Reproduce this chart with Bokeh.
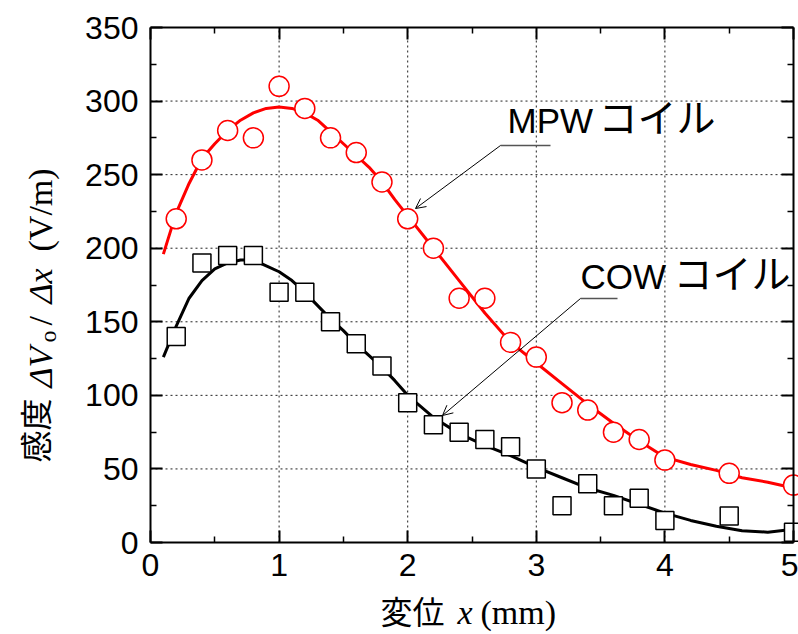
import math
from bokeh.plotting import figure
from bokeh.models import (Range1d, LinearAxis, Label, Arrow, OpenHead, FixedTicker,
                          CustomLabelingPolicy)
from bokeh.embed import file_html
from bokeh.resources import INLINE

# ---------------- data ----------------
x_pts = [0.2, 0.4, 0.6, 0.8, 1.0, 1.2, 1.4, 1.6, 1.8, 2.0, 2.2, 2.4, 2.6, 2.8,
         3.0, 3.2, 3.4, 3.6, 3.8, 4.0, 4.5, 5.0]
mpw_vals = [220, 260, 280, 275, 310, 295, 275, 265, 245, 220, 200, 166, 166, 136,
            126, 95, 90, 75, 70, 56, 47, 39]
cow_vals = [140, 190, 195, 195, 170, 170, 150, 135, 120, 95, 80, 75, 70, 65,
            50, 25, 40, 25, 30, 15, 18, 7]

fit_x = [0.1, 0.2, 0.3, 0.4, 0.5, 0.6, 0.7, 0.8, 0.9, 1.0, 1.1, 1.2, 1.3, 1.4,
         1.5, 1.6, 1.7, 1.8, 1.9, 2.0, 2.2, 2.4, 2.6, 2.8, 3.0, 3.2, 3.4, 3.6,
         3.8, 4.0, 4.2, 4.4, 4.6, 4.8, 5.0]
mpw_fit = [196, 224, 244, 261, 271, 280, 287, 292, 295, 296, 295, 292, 287, 279,
           271, 263, 255, 245, 233, 222, 200, 178, 156, 136, 122, 108, 94, 81,
           69, 58, 53, 49, 44, 41, 37]
cow_fit = [126, 147, 166, 178, 186, 190, 192, 192, 188, 184, 178, 170, 161, 152,
           144, 135, 127, 119, 110, 100, 85, 74, 66, 59, 51, 44, 37, 32,
           26, 20, 15, 11, 8, 7, 9]

x_ticks = [0, 1, 2, 3, 4, 5]
x_minor = [0.5, 1.5, 2.5, 3.5, 4.5]
y_ticks = [0, 50, 100, 150, 200, 250, 300, 350]
y_minor = [25, 75, 125, 175, 225, 275, 325]

series_names = ["MPW", "COW"]
series_suffix = "コイル"

# ---------------- geometry ----------------
X0, X1, Y0, Y1 = 0, 5, 0, 350
FL, FR, FT, FB = 150, 793, 27, 542  # axes box in pixels
W, H = 798, 634
sx = (FR - FL) / (X1 - X0)
sy = (FB - FT) / (Y1 - Y0)


def dx(px):
    return X0 + (px - FL) / sx


def dy(py):
    return Y0 + (FB - py) / sy


# annotation anchors in pixels: latin start, cjk start, latin baseline,
# cjk baseline, leader line (x0, x1, y), arrow target (x, y)
ann = [dict(lat=507, cjk=598, base=120, cbase=114, lead=(500, 550, 145), tgt=(415, 208)),
       dict(lat=580, cjk=673, base=276, cbase=270, lead=(580, 617, 298), tgt=(442, 415))]

p = figure(width=W, height=H, output_backend="svg", toolbar_location=None,
           x_range=Range1d(dx(0), dx(W)), y_range=Range1d(dy(H), dy(0)),
           min_border_left=0, min_border_right=0,
           min_border_top=0, min_border_bottom=0)
p.background_fill_color = "white"
p.border_fill_color = "white"
p.outline_line_color = None
p.xgrid.visible = False
p.ygrid.visible = False

p.add_layout(LinearAxis(), "above")
p.add_layout(LinearAxis(), "right")

p.below[0].fixed_location = Y0
p.above[0].fixed_location = Y1
p.left[0].fixed_location = X0
p.right[0].fixed_location = X1

for ax in p.xaxis:
    ax.ticker = FixedTicker(ticks=x_ticks, minor_ticks=x_minor)
    ax.bounds = (X0, X1)
for ax in p.yaxis:
    ax.ticker = FixedTicker(ticks=y_ticks, minor_ticks=y_minor)
    ax.bounds = (Y0, Y1)

for ax in p.axis:
    ax.axis_line_width = 2
    ax.axis_line_color = "black"
    ax.major_tick_in = 12
    ax.major_tick_out = 0
    ax.minor_tick_in = 6
    ax.minor_tick_out = 0
    ax.major_tick_line_width = 2
    ax.minor_tick_line_width = 1.5
    ax.major_tick_line_color = "black"
    ax.minor_tick_line_color = "black"
    ax.major_label_text_font = "Liberation Sans"
    ax.major_label_text_font_size = "32px"
    ax.major_label_text_color = "black"

hide = CustomLabelingPolicy(code="""
for (const i of Array.from(indices)) { indices.unset(i) }
return indices
""")
p.above[0].major_label_policy = hide
p.right[0].major_label_policy = hide
p.below[0].major_label_standoff = 11
p.left[0].major_label_standoff = 12

# dotted grid inside the axes box
p.segment(x0=x_ticks[1:-1], y0=[Y0] * (len(x_ticks) - 2),
          x1=x_ticks[1:-1], y1=[Y1] * (len(x_ticks) - 2),
          line_color="#222222", line_width=1, line_dash="2 3")
p.segment(x0=[X0] * (len(y_ticks) - 2), y0=y_ticks[1:-1],
          x1=[X1] * (len(y_ticks) - 2), y1=y_ticks[1:-1],
          line_color="#222222", line_width=1, line_dash="2 3")

# ---------------- data marks ----------------
p.line(fit_x, mpw_fit, line_color="#ff0000", line_width=3)
p.line(fit_x, cow_fit, line_color="black", line_width=3)
p.scatter(x_pts, mpw_vals, marker="circle", size=20, fill_color="white",
          line_color="#ff0000", line_width=1.5)
p.scatter(x_pts, cow_vals, marker="square", size=18, fill_color="white",
          line_color="black", line_width=1.5)

# ---------------- annotations ----------------
CJK = "Noto Sans CJK JP"
SERIF = "Liberation Serif"
SANS = "Liberation Sans"

for name, a in zip(series_names, ann):
    p.add_layout(Label(x=dx(a["lat"]), y=dy(a["base"]), text=name,
                       text_align="left", text_baseline="alphabetic",
                       text_font=SANS, text_font_size="35px", text_color="black"))
    p.add_layout(Label(x=dx(a["cjk"]), y=dy(a["cbase"]), text=series_suffix,
                       text_align="left", text_baseline="alphabetic",
                       text_font=CJK, text_font_size="39px", text_color="black"))
    lx0, lx1, ly = a["lead"]
    tx, ty = a["tgt"]
    p.segment(x0=[dx(lx0)], y0=[dy(ly)], x1=[dx(lx1)], y1=[dy(ly)],
              line_color="#555555", line_width=1.5)
    p.add_layout(Arrow(x_start=dx(lx0), y_start=dy(ly), x_end=dx(tx), y_end=dy(ty),
                       line_color="black", line_width=1,
                       end=OpenHead(size=10, line_width=1, line_color="black")))

# ---------------- axis titles (mixed fonts) ----------------
# y title pieces: (text, font, size, style, start_py, baseline_px)
y_title = [("感度", CJK, 32, "normal", 462, 33),
           ("ΔV", SERIF, 34, "italic", 387, 40),
           ("o", SERIF, 24, "normal", 342, 47),
           ("/", SERIF, 34, "normal", 325, 40),
           ("Δx", SERIF, 34, "italic", 303, 40),
           ("(V/m)", SERIF, 34, "normal", 251, 40)]
for txt, fnt, fs, st, spy, bpx in y_title:
    p.add_layout(Label(x=dx(bpx), y=dy(spy), text=txt, angle=math.pi / 2,
                       text_align="left", text_baseline="alphabetic",
                       text_font=fnt, text_font_size=f"{fs}px",
                       text_font_style=st, text_color="black"))

# x title pieces: (text, font, size, style, start_px, baseline_py)
x_title = [("変位", CJK, 32, "normal", 380, 609),
           ("x", SERIF, 34, "italic", 457, 612),
           ("(mm)", SERIF, 34, "normal", 480, 612)]
for txt, fnt, fs, st, spx, bpy in x_title:
    p.add_layout(Label(x=dx(spx), y=dy(bpy), text=txt,
                       text_align="left", text_baseline="alphabetic",
                       text_font=fnt, text_font_size=f"{fs}px",
                       text_font_style=st, text_color="black"))

open("out.html", "w").write(file_html(p, INLINE))
